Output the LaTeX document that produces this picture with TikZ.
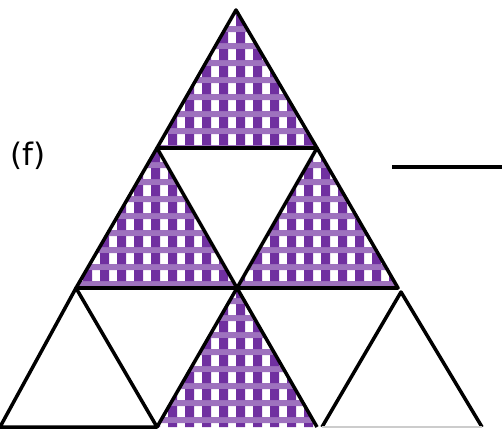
\documentclass[tikz,border=0pt]{standalone}
\usepackage{fontspec}
\setmainfont{DejaVu Sans}

\definecolor{checkpurple}{HTML}{7030A0}

\begin{document}
\begin{tikzpicture}[x=0.25mm,y=-0.25mm,
  edge/.style={line width=2.5pt, line join=round},
  shaded/.style={path picture={
    % light checked bands
    \fill[checkpurple!68] foreach \k in {0,...,25} {(0,9+17*\k) rectangle (502,15+17*\k)};
    % dark squares
    \fill[checkpurple] foreach \k in {0,...,25} {foreach \j in {0,...,29}
      {(15+17*\j,15+17*\k) rectangle (24+17*\j,26+17*\k)}};
  }},
  blank/.style={font=\fontsize{22}{26}\selectfont}]
\useasboundingbox (0,0) rectangle (502,429);

% lattice points
\coordinate (top) at (236,10);
\coordinate (r1l) at (157,148);
\coordinate (r1r) at (317,148);
\coordinate (r2l) at (76,288);
\coordinate (r2m) at (237,288);
\coordinate (r2r) at (398,288);
\coordinate (b0) at (0,427);
\coordinate (b1) at (157,427);
\coordinate (b2) at (317,427);
\coordinate (rt) at (401,292);
\coordinate (b3) at (322,427);
\coordinate (b4) at (482,427);

% shaded triangles
\path[shaded] (top) -- (r1l) -- (r1r) -- cycle;
\path[shaded] (r1l) -- (r2l) -- (r2m) -- cycle;
\path[shaded] (r1r) -- (r2m) -- (r2r) -- cycle;
\path[shaded] (r2m) -- (b1) -- (b2) -- cycle;

% outlines
\draw[edge] (top) -- (r1l) -- (r1r) -- cycle;
\draw[edge] (r1l) -- (r2l) -- (r2r) -- (r1r);
\draw[edge] (r1l) -- (r2m) -- (r1r);
\draw[edge] (r2l) -- (b0) -- (b1) -- cycle;
\draw[edge] (b1) -- (r2m) -- (b2);
\draw[edge] (b3) -- (rt) -- (b4);
\draw[line width=1pt, black!20] (b3) -- (b4);

\node[blank] (label) at (28,156) {(f)};
\coordinate (ans1) at (392,167);
\coordinate (ans2) at (502,167);
\draw[line width=2.2pt] (ans1) -- (ans2);
\end{tikzpicture}
\end{document}
